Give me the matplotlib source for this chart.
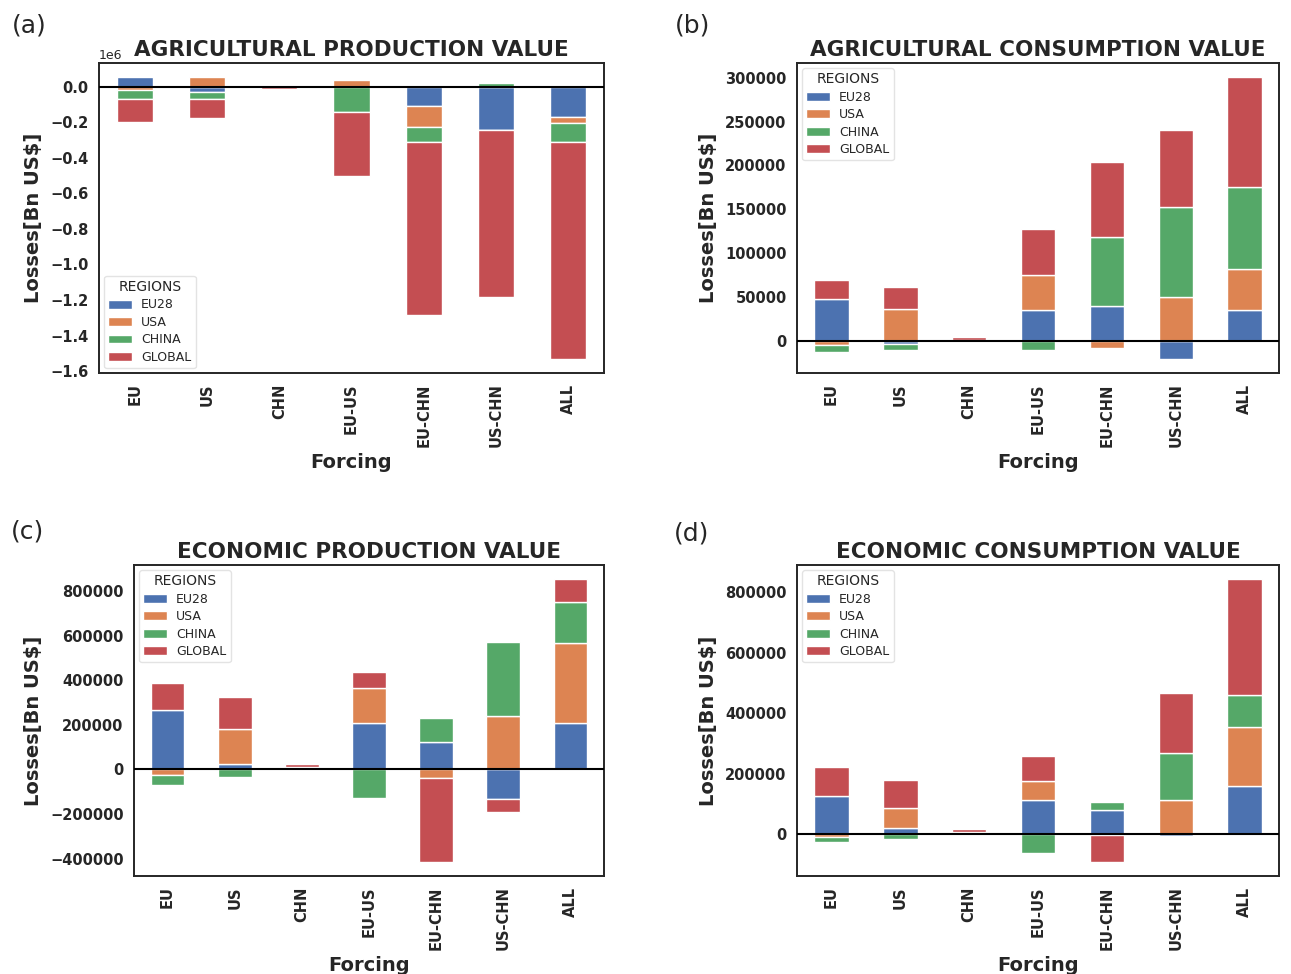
import matplotlib
matplotlib.use("Agg")
import matplotlib.pyplot as plt
import pandas as pd

plt.rcParams['font.family'] = ['DejaVu Sans']
plt.rcParams['text.color'] = '#262626'
plt.rcParams['axes.labelcolor'] = '#262626'
plt.rcParams['xtick.color'] = '#262626'
plt.rcParams['ytick.color'] = '#262626'

forcings = ["EU", "US", "CHN", "EU-US", "EU-CHN", "US-CHN", "ALL"]
regions = ["EU28", "USA", "CHINA", "GLOBAL"]
colors = ["#4C72B0", "#DD8452", "#55A868", "#C44E52"]

# (a) Agricultural production value
agp_eu28 = [53000, -28000, 0, -2000, -107000, -244000, -173000]
agp_usa = [-22000, 51000, 0, 39000, -118000, 0, -34000]
agp_china = [-49000, -43000, -2000, -143000, -85000, 17000, -103000]
agp_global = [-128000, -105000, -14000, -359000, -977000, -937000, -1221000]

# (b) Agricultural consumption value
agc_eu28 = [47000, -3400, 0, 35000, 40000, -21000, 35000]
agc_usa = [-4600, 35500, 0, 40000, -8400, 50000, 47000]
agc_china = [-8800, -6900, 1000, -10300, 78000, 102000, 93000]
agc_global = [22500, 26000, 2500, 53000, 85500, 89000, 126000]

# (c) Economic production value
ecp_eu28 = [268000, 22600, 0, 211000, 123000, -132000, 209000]
ecp_usa = [-22600, 157000, 0, 155000, -40000, 238000, 361000]
ecp_china = [-46700, -33000, 10000, -128000, 108000, 336000, 181000]
ecp_global = [120000, 148000, 15000, 72000, -375000, -59000, 104000]

# (d) Economic consumption value
ecc_eu28 = [126000, 22000, 2000, 115000, 81000, -6000, 160000]
ecc_usa = [-10000, 64000, 2000, 62000, -3000, 115000, 196000]
ecc_china = [-14000, -14000, 3000, -61000, 26500, 155000, 106000]
ecc_global = [98000, 95000, 12000, 82000, -88000, 198000, 382000]

panels = [
    ("(a)", "AGRICULTURAL PRODUCTION VALUE", [agp_eu28, agp_usa, agp_china, agp_global], "lower left"),
    ("(b)", "AGRICULTURAL CONSUMPTION VALUE", [agc_eu28, agc_usa, agc_china, agc_global], "upper left"),
    ("(c)", "ECONOMIC PRODUCTION VALUE", [ecp_eu28, ecp_usa, ecp_china, ecp_global], "upper left"),
    ("(d)", "ECONOMIC CONSUMPTION VALUE", [ecc_eu28, ecc_usa, ecc_china, ecc_global], "upper left"),
]

W, H = 1291, 974
fig = plt.figure(figsize=(W / 100, H / 100), dpi=100)

def rect(l, r, t, b):
    return [l / W, 1 - b / H, (r - l) / W, (b - t) / H]

axes_rects = [rect(99, 604, 63, 373), rect(797, 1279, 63, 373),
              rect(134, 604, 565, 876), rect(797, 1279, 565, 876)]
label_pos = [(29, 26), (693, 26), (28, 532), (692, 533)]

for (lab, title, series, legloc), r, lp in zip(panels, axes_rects, label_pos):
    ax = fig.add_axes(r)
    df = pd.DataFrame({reg: s for reg, s in zip(regions, series)}, index=forcings)
    df.plot(kind="bar", stacked=True, ax=ax, color=colors, width=0.5,
            edgecolor="white", linewidth=1.0, rot=90)
    ax.axhline(0, color="black", lw=1.5, zorder=5)
    ax.set_xlim(-0.5, 6.5)
    ax.set_title(title, fontsize=15.5, fontweight="bold", pad=5)
    ax.set_ylabel("Losses[Bn US$]", fontsize=14, fontweight="bold", labelpad=5)
    ax.set_xlabel("Forcing", fontsize=14, fontweight="bold")
    ax.tick_params(axis="both", length=0, labelsize=10.5, pad=7.5)
    for t in ax.get_xticklabels() + ax.get_yticklabels():
        t.set_fontweight("bold")
    ax.yaxis.get_offset_text().set_fontsize(9)
    for sp in ax.spines.values():
        sp.set_color("#262626")
        sp.set_linewidth(1.4)
    leg = ax.legend(title="REGIONS", loc=legloc, fontsize=9, title_fontsize=10,
                    frameon=True, fancybox=True, handlelength=1.9,
                    labelspacing=0.35, borderaxespad=0.4, borderpad=0.35,
                    handletextpad=0.7)
    leg.get_frame().set_edgecolor("#dddddd")
    fig.text(lp[0] / W, 1 - lp[1] / H, lab, fontsize=18, ha="center", va="center")

fig.savefig("out.png", dpi=100)
